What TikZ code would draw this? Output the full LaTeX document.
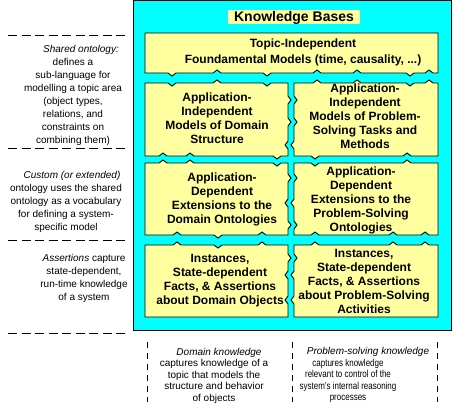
\documentclass[tikz,border=0pt]{standalone}
\usepackage{fontspec}
\setmainfont{Liberation Sans}
\definecolor{kbcyan}{RGB}{0,255,255}
\definecolor{kbyellow}{RGB}{255,255,160}
\newcommand\kbH[3]{-- ({#1-4},#2) -- (#1,{#2+#3}) -- ({#1+4},#2)}
\newcommand\kbHr[3]{-- ({#1+4},#2) -- (#1,{#2+#3}) -- ({#1-4},#2)}
\newcommand\kbV[3]{-- (#2,{#1-4}) -- ({#2+#3},#1) -- (#2,{#1+4})}
\newcommand\kbVr[3]{-- (#2,{#1+4}) -- ({#2+#3},#1) -- (#2,{#1-4})}
\tikzset{
  kbbox/.style={fill=kbyellow, draw=black, line width=0.9pt, line join=miter},
  kbtext/.style={align=center, inner sep=0pt, font=\fontsize{12}{14}\selectfont\bfseries},
  sidetext/.style={align=center, inner sep=0pt, font=\fontsize{10}{13.1}\selectfont},
  bottext/.style={align=center, inner sep=0pt, font=\fontsize{10}{11.5}\selectfont},
  hdash/.style={draw=black, line width=0.8pt, dash pattern=on 9pt off 4.5pt},
  vdash/.style={draw=black, line width=0.8pt, dash pattern=on 6pt off 5pt}
}
\begin{document}
\begin{tikzpicture}[x=1pt,y=-1pt]
\useasboundingbox (0,0) rectangle (454,407);
% outer frame
\draw[fill=kbcyan, draw=black, line width=1pt] (133,0.5) rectangle (451,330);
% title
\fill[kbyellow] (228,10) rectangle (360,24);
\node[font=\fontsize{14}{16}\selectfont\bfseries, inner sep=0pt] (title) at (294,17.5) {Knowledge Bases};
% top box
\draw[kbbox] (145,33) -- (438,33) -- (438,73)
  \kbHr{429}{73}{-3} \kbHr{410}{73}{3} \kbHr{357}{73}{-3} \kbHr{317}{73}{-3}
  \kbHr{267}{73}{3} \kbHr{217}{73}{-3} \kbHr{172}{73}{3} -- (145,73) -- cycle;
% row 2
\draw[kbbox] (145,83) \kbH{172}{83}{3} \kbH{217}{83}{-3} \kbH{267}{83}{3} -- (288,83)
  \kbV{100}{288}{3} \kbV{122}{288}{3} \kbV{145}{288}{-3} -- (288,156)
  \kbHr{277}{156}{3} \kbHr{190}{156}{-3} \kbHr{163}{156}{-3} -- (145,156) -- cycle;
\draw[kbbox] (294,83) \kbH{317}{83}{-3} \kbH{357}{83}{-3} \kbH{410}{83}{3} \kbH{429}{83}{-3} -- (438,83)
  -- (438,156) \kbHr{407}{156}{-3} \kbHr{315}{156}{3} -- (294,156)
  \kbVr{145}{294}{-3} \kbVr{122}{294}{3} \kbVr{100}{294}{3} -- cycle;
% row 3
\draw[kbbox] (145,163) \kbH{163}{163}{-3} \kbH{190}{163}{-3} \kbH{277}{163}{3} -- (288,163)
  \kbV{178}{288}{3} \kbV{203}{288}{-3} \kbV{225}{288}{3} -- (288,235)
  \kbHr{262}{235}{-3} \kbHr{218}{235}{3} \kbHr{177}{235}{-3} -- (145,235) -- cycle;
\draw[kbbox] (294,163) \kbH{315}{163}{3} \kbH{407}{163}{-3} -- (438,163)
  -- (438,235) \kbHr{425}{235}{-3} \kbHr{393}{235}{-3} \kbHr{315}{235}{-3} -- (294,235)
  \kbVr{225}{294}{3} \kbVr{203}{294}{-3} \kbVr{178}{294}{3} -- cycle;
% row 4
\draw[kbbox] (145,245) \kbH{177}{245}{-3} \kbH{218}{245}{3} \kbH{262}{245}{-3} -- (288,245)
  \kbV{258}{288}{3} \kbV{275}{288}{-3} \kbV{300}{288}{-3} -- (288,317)
  -- (145,317) -- cycle;
\draw[kbbox] (294,245) \kbH{315}{245}{-3} \kbH{393}{245}{-3} \kbH{425}{245}{-3} -- (438,245)
  -- (438,317) -- (294,317)
  \kbVr{300}{294}{-3} \kbVr{275}{294}{-3} \kbVr{258}{294}{3} -- cycle;
% box texts
\node[kbtext, font=\fontsize{12}{16}\selectfont\bfseries] (topbox) at (303,52) {Topic-Independent\\Foundamental Models (time, causality, ...)};
\node[kbtext] (r2l) at (217,118) {Application-\\Independent\\Models of Domain\\Structure};
\node[kbtext] (r2r) at (365,116) {Application-\\Independent\\Models of Problem-\\Solving Tasks and\\Methods};
\node[kbtext] (r3l) at (222,199) {Application-\\Dependent\\Extensions to the\\Domain Ontologies};
\node[kbtext] (r3r) at (361,200.5) {Application-\\Dependent\\Extensions to the\\Problem-Solving\\Ontologies};
\node[kbtext] (r4l) at (220,280.5) {Instances,\\State-dependent\\Facts, \& Assertions\\about Domain Objects};
\node[kbtext] (r4r) at (364,281) {Instances,\\State-dependent\\Facts, \& Assertions\\about Problem-Solving\\Activities};
% left side
\draw[hdash] (8,35) -- (128,35);
\draw[hdash] (8,148) -- (128,148);
\draw[hdash] (8,240) -- (128,240);
\draw[hdash] (8,333) -- (128,333);
\node[sidetext] (shared) at (73,95.5) {\hspace*{16pt}\textit{Shared ontology:}\\defines a\\sub-language for\\modelling a topic area\\(object types,\\relations, and\\constraints on\\combining them)};
\node[sidetext] (custom) at (66,202) {\hspace*{12pt}\textit{Custom (or extended)}\\ontology uses the shared\\ontology as a vocabulary\\for defining a system-\\specific model};
\node[sidetext] (assert) at (84,278.5) {\textit{Assertions} capture\\state-dependent,\\run-time knowledge\\of a system};
% bottom
\draw[vdash] (147,342) -- (147,402);
\draw[vdash] (292,342) -- (292,402);
\draw[vdash] (437,342) -- (437,402);
\node[bottext] (domk) at (214,375.5) {\hspace*{10pt}\textit{Domain knowledge}\\captures knowledge of a\\topic that models the\\structure and behavior\\of objects};
\node[bottext] (probt) at (368,352) {\textit{Problem-solving knowledge}};
\begin{scope}[shift={(348,381)}, xscale=0.8]
\node[bottext, transform shape] (probk) at (0,0) {captures knowledge\\relevant to control of the\\system's internal reasoning\\processes};
\end{scope}
\end{tikzpicture}
\end{document}
